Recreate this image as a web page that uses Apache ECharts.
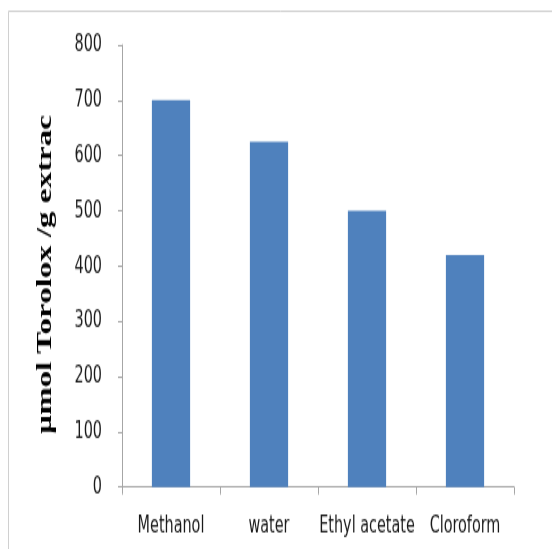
<!DOCTYPE html>
<html>
<head>
<meta charset="utf-8">
<script src="https://cdn.jsdelivr.net/npm/echarts@6/dist/echarts.min.js"></script>
<style>
  html, body { margin: 0; padding: 0; background: #fff; overflow: hidden; }
  #wrap { width: 552px; height: 549px; overflow: hidden; position: relative; }
  /* chart drawn at 1/1.5 height, then stretched vertically */
  #chart { width: 552px; height: 366px; transform: scaleY(1.5); transform-origin: 0 0; }
</style>
</head>
<body>
<div id="wrap"><div id="chart"></div></div>
<script>
const categories = ['Methanol', 'water', 'Ethyl acetate', 'Cloroform'];
const troloxValues = [700, 625, 500, 420];
const yTicks = [0, 100, 200, 300, 400, 500, 600, 700, 800];
const yTitle = 'µmol Torolox /g extrac';

const labelFont = "'Liberation Sans Narrow', 'DejaVu Sans Condensed', 'Liberation Sans', sans-serif";

const chart = echarts.init(document.getElementById('chart'), null, { renderer: 'canvas' });

chart.setOption({
  animation: false,
  backgroundColor: '#ffffff',
  graphic: [
    {
      type: 'rect',
      shape: { x: 8.5, y: 7.5, width: 600, height: 400 },
      style: { fill: 'none', stroke: '#d0d0d0', lineWidth: 1 }
    },
    {
      type: 'text',
      x: 45, y: 183,
      rotation: Math.PI / 2,
      style: {
        text: yTitle,
        font: "bold 22px 'Liberation Serif', 'Times New Roman', serif",
        fill: '#000',
        align: 'center',
        verticalAlign: 'middle'
      }
    }
  ],
  grid: { left: 122, right: 38, top: 30, bottom: 41.3 },
  xAxis: {
    type: 'category',
    data: categories,
    axisLine: { lineStyle: { color: '#a6a6a6', width: 1 } },
    axisTick: { show: true, length: 5, lineStyle: { color: '#a6a6a6' } },
    axisLabel: {
      interval: 0, hideOverlap: false,
      color: '#1a1a1a', fontFamily: labelFont, fontSize: 16, margin: 18
    }
  },
  yAxis: {
    type: 'value',
    min: yTicks[0],
    max: yTicks[yTicks.length - 1],
    interval: yTicks[1] - yTicks[0],
    axisLine: { show: true, lineStyle: { color: '#a6a6a6', width: 1 } },
    axisTick: { show: true, length: 4, lineStyle: { color: '#a6a6a6' } },
    splitLine: { show: false },
    axisLabel: { color: '#1a1a1a', fontFamily: labelFont, fontSize: 16, margin: 20 }
  },
  series: [{
    type: 'bar',
    data: troloxValues,
    barWidth: '39%',
    itemStyle: { color: '#4f81bd' }
  }]
});
</script>
</body>
</html>
